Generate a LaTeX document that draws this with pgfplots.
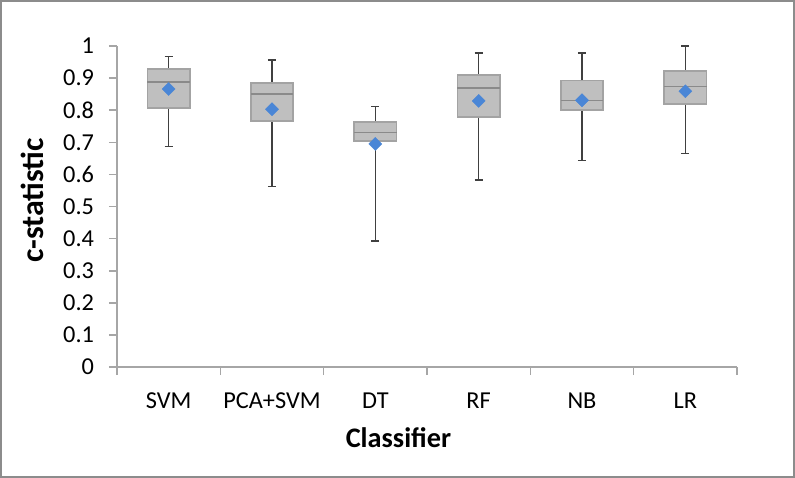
\documentclass[border=0pt]{standalone}
\usepackage{pgfplots}
\pgfplotsset{compat=1.18}
\usepgfplotslibrary{statistics}
\usepackage{fontspec}
\setmainfont{Carlito}
\definecolor{boxfill}{HTML}{BFBFBF}
\definecolor{boxborder}{HTML}{A3A3A3}
\definecolor{medcol}{HTML}{8A8A8A}
\definecolor{whisk}{HTML}{404040}
\definecolor{axgray}{HTML}{A6A6A6}
\definecolor{framegray}{HTML}{8C8C8C}
\definecolor{meanblue}{HTML}{4A86D6}
\begin{document}
\begin{tikzpicture}
\begin{axis}[
  scale only axis,
  width=310bp, height=160.5bp,
  xmin=-0.5, xmax=5.5, ymin=0, ymax=1,
  axis x line=bottom, axis y line=left,
  axis line style={-, draw=axgray, line width=0.8bp},
  tick align=outside,
  xtick={0,1,2,3,4,5},
  xticklabels={SVM,PCA+SVM,DT,RF,NB,LR},
  major x tick style={draw=none},
  minor xtick={-0.5,0.5,1.5,2.5,3.5,4.5,5.5},
  minor tick length=4bp,
  minor x tick style={draw=axgray, line width=0.8bp},
  ytick={0,0.1,0.2,0.3,0.4,0.5,0.6,0.7,0.8,0.9,1},
  major tick length=4bp,
  y tick style={draw=axgray, line width=0.8bp},
  yticklabel style={/pgf/number format/fixed, /pgf/number format/precision=1, xshift=-4bp},
  xticklabel style={anchor=base, yshift=-16.5bp},
  /pgf/number format/assume math mode=true,
  ticklabel style={font=\fontsize{12.2}{14}\selectfont, text=black},
  xlabel={\textbf{Classifier}},
  ylabel={\textbf{c-statistic}},
  xlabel style={font=\fontsize{14.2}{17}\selectfont, at={([yshift=-40bp]axis description cs:0.454,0)}, anchor=base},
  ylabel style={font=\fontsize{16}{19}\selectfont, at={([xshift=-36.5bp]axis description cs:0,0.519)}, anchor=base, rotate=0},
  clip=false,
  boxplot/draw direction=y,
  boxplot/every box/.style={draw=boxborder, fill=boxfill, line width=0.8bp},
  boxplot/every whisker/.style={draw=whisk, line width=0.7bp},
  boxplot/every median/.style={draw=medcol, line width=0.8bp},
]
\coordinate (O) at (rel axis cs:0,0);
\addplot[boxplot prepared={draw position=0, lower whisker=0.686, lower quartile=0.806, median=0.887, upper quartile=0.928, upper whisker=0.967, box extend=0.41, whisker extend=0.08}] coordinates {};
\addplot[boxplot prepared={draw position=1, lower whisker=0.562, lower quartile=0.766, median=0.850, upper quartile=0.884, upper whisker=0.956, box extend=0.41, whisker extend=0.08}] coordinates {};
\addplot[boxplot prepared={draw position=2, lower whisker=0.393, lower quartile=0.704, median=0.731, upper quartile=0.764, upper whisker=0.811, box extend=0.41, whisker extend=0.08}] coordinates {};
\addplot[boxplot prepared={draw position=3, lower whisker=0.583, lower quartile=0.778, median=0.870, upper quartile=0.910, upper whisker=0.978, box extend=0.41, whisker extend=0.08}] coordinates {};
\addplot[boxplot prepared={draw position=4, lower whisker=0.644, lower quartile=0.800, median=0.830, upper quartile=0.893, upper whisker=0.978, box extend=0.41, whisker extend=0.08}] coordinates {};
\addplot[boxplot prepared={draw position=5, lower whisker=0.666, lower quartile=0.820, median=0.874, upper quartile=0.923, upper whisker=1.000, box extend=0.41, whisker extend=0.08}] coordinates {};
\addplot[only marks, mark=square*, mark size=2.3bp, mark options={rotate=45, fill=meanblue, draw=meanblue, line width=0.2bp}] coordinates {(0,0.866) (1,0.803) (2,0.695) (3,0.829) (4,0.831) (5,0.859)};
\end{axis}
\useasboundingbox ([shift={(-58.5bp,-55.5bp)}]O) rectangle ++(397.5bp,239bp);
\draw[framegray, line width=1bp] ([shift={(-58bp,-55bp)}]O) rectangle ++(396.5bp,238bp);
\end{tikzpicture}
\end{document}
